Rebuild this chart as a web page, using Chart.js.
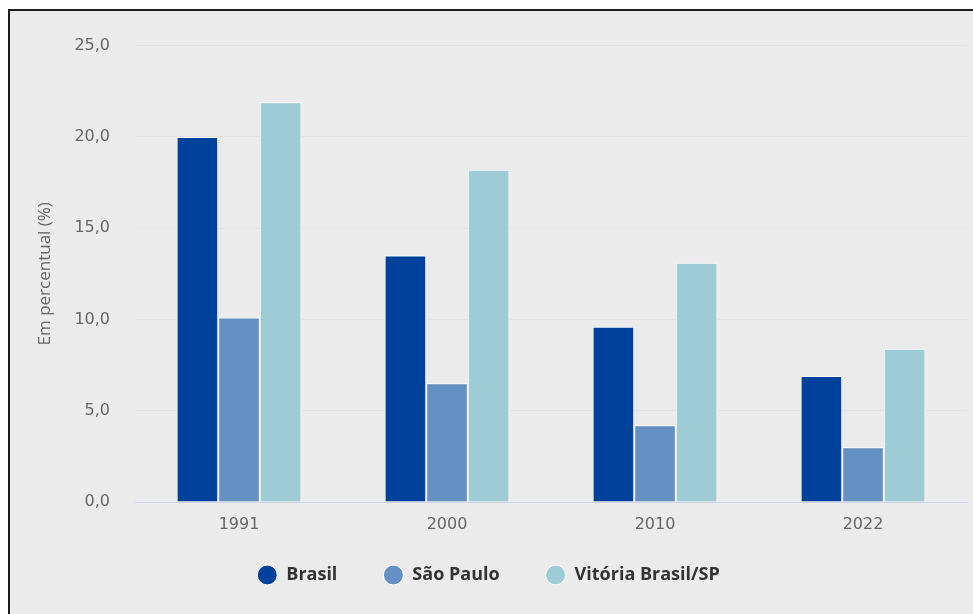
<!DOCTYPE html>
<html>
<head>
<meta charset="utf-8">
<script src="https://cdn.jsdelivr.net/npm/chart.js@4"></script>
<style>
  html, body { margin: 0; padding: 0; background: #fff; width: 973px; height: 614px; overflow: hidden; }
  #frame {
    position: absolute; left: 8px; top: 9px; width: 965px; height: 605px;
    border-left: 2px solid #1c1c1c; border-top: 2px solid #1c1c1c;
    background: #ebebeb;
  }
  #myChart { position: absolute; left: 0; top: 0; }
</style>
</head>
<body>
<div id="frame"><canvas id="myChart" width="963" height="603"></canvas></div>
<script>
// data
const years = ['1991', '2000', '2010', '2022'];
const brasil = [20.0, 13.5, 9.6, 6.9];
const saoPaulo = [10.1, 6.5, 4.2, 3.0];
const vitoria = [21.9, 18.2, 13.1, 8.4];
const seriesNames = ['Brasil', 'São Paulo', 'Vitória Brasil/SP'];
const yTicks = [0, 5, 10, 15, 20, 25];

const colors = ['#00419b', '#6391c3', '#9dcbd6'];
const tickFont = { family: 'DejaVu Sans', size: 16 };

// legend: wide gaps between items but a shorter box
const TRIM = 14;
const legendTrim = {
  id: 'legendTrim',
  afterInit(chart) {
    const lg = chart.legend;
    const fit = lg.fit;
    lg.fit = function () { fit.call(this); this.height -= TRIM; };
    const draw = lg._draw;
    lg._draw = function () {
      this.ctx.save();
      this.ctx.translate(0, -TRIM);
      draw.call(this);
      this.ctx.restore();
    };
  }
};

const ctx = document.getElementById('myChart');

new Chart(ctx, {
  type: 'bar',
  data: {
    labels: years,
    datasets: [brasil, saoPaulo, vitoria].map((vals, i) => ({
      label: seriesNames[i],
      data: vals,
      backgroundColor: colors[i],
      borderColor: '#ffffff',
      borderWidth: 1,
      categoryPercentage: 0.6,
      barPercentage: 1.0
    }))
  },
  plugins: [legendTrim],
  options: {
    responsive: false,
    animation: false,
    layout: { padding: { top: 34, right: 6, left: 0, bottom: 20 } },
    plugins: {
      tooltip: { enabled: false },
      legend: {
        position: 'bottom',
        labels: {
          usePointStyle: true,
          pointStyle: 'circle',
          boxHeight: 14,
          pointStyleWidth: 20,
          padding: 46,
          color: '#333333',
          font: { family: 'Open Sans', size: 18, weight: 'bold' }
        }
      }
    },
    scales: {
      x: {
        grid: { display: false, drawTicks: false },
        border: { color: '#ccd6eb', width: 1 },
        ticks: { color: '#666666', font: tickFont, padding: 13 },
        afterFit: (s) => { s.height = 32; }
      },
      y: {
        min: 0,
        max: 25,
        afterBuildTicks: (s) => { s.ticks = yTicks.map(v => ({ value: v })); },
        grid: { color: '#e2e2e2', drawTicks: false },
        border: { display: false },
        ticks: {
          color: '#666666',
          font: tickFont,
          padding: 25,
          callback: (v) => v.toFixed(1).replace('.', ',')
        },
        title: {
          display: true,
          text: 'Em percentual (%)',
          color: '#666666',
          font: { family: 'Open Sans', size: 17 },
          padding: { top: 25, bottom: 0 }
        },
        afterFit: (s) => { s.width = 125; }
      }
    }
  }
});
</script>
</body>
</html>
